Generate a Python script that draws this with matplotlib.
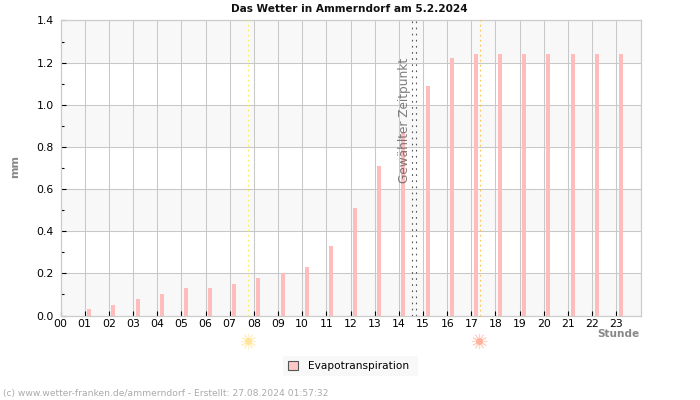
#!/usr/bin/env python3
# coding: utf-8

import matplotlib
matplotlib.use("Agg")
import matplotlib.pyplot as plt
from matplotlib.patches import Patch, Rectangle
from matplotlib.transforms import blended_transform_factory

hours = list(range(1, 24))
evapo = [0.03, 0.05, 0.08, 0.10, 0.13, 0.13, 0.15, 0.18, 0.20, 0.23, 0.33, 0.51,
         0.71, 0.87, 1.09, 1.22, 1.24, 1.24, 1.24, 1.24, 1.24, 1.24, 1.24]
hour_labels = [f"{h:02d}" for h in range(24)]
sunrise = 7.77
sunset = 17.37
selected = [14.53, 14.70]
bands = [(0.0, 0.2), (0.4, 0.6), (0.8, 1.0), (1.2, 1.4)]

W, H = 700, 400
fig = plt.figure(figsize=(7, 4), dpi=100)
ax = fig.add_axes([60.5 / W, 1 - 315.5 / H, 580 / W, 295 / H])
ax.set_xlim(0, 24)
ax.set_ylim(0, 1.4)

for lo, hi in bands:
    ax.axhspan(lo, hi, color="#f8f8f8", lw=0, zorder=0)
ax.grid(True, which="major", color="#c8c8c8", lw=0.75, zorder=1)
ax.set_axisbelow(True)

# bars sit a little right of the full hour
ax.bar([h + 0.19 for h in hours], evapo, width=0.165, color="#ffbcbc", lw=0, zorder=2)

ax.axvline(sunrise, color="#ffee55", lw=0.8, ls=(0, (1.5, 3)), zorder=3)
ax.axvline(sunset, color="#ffc04d", lw=0.8, ls=(0, (1.5, 3)), zorder=3)
for s in selected:
    ax.axvline(s, color="#555555", lw=0.8, ls=(0, (1.5, 4)), zorder=3)

ax.text(14.25, 0.925, "Gewählter Zeitpunkt", rotation=90, ha="center", va="center",
        fontsize=8.7, color="#666666", alpha=0.85, zorder=4)

ax.set_xticks(range(24))
ax.set_xticklabels(hour_labels)
ax.set_yticks([0, 0.2, 0.4, 0.6, 0.8, 1.0, 1.2, 1.4])
ax.set_yticklabels(["0.0", "0.2", "0.4", "0.6", "0.8", "1.0", "1.2", "1.4"])
ax.set_yticks([0.1, 0.3, 0.5, 0.7, 0.9, 1.1, 1.3], minor=True)
ax.tick_params(axis="x", direction="in", length=3.6, width=0.8, pad=2.5, labelsize=7.8, color="black")
ax.tick_params(axis="y", direction="in", length=3.6, width=0.8, pad=5, labelsize=7.8, color="black")
ax.tick_params(axis="y", which="minor", direction="in", length=2.2, width=0.8, color="black")
for side in ax.spines:
    ax.spines[side].set_color("#cccccc")
    ax.spines[side].set_linewidth(0.9)

fig.text(349 / W, 1 - 9 / H, "Das Wetter in Ammerndorf am 5.2.2024", ha="center", va="center",
         fontsize=7.6, fontweight="bold", color="#111111")
fig.text(15.5 / W, 1 - 166 / H, "mm", rotation=90, ha="center", va="center",
         fontsize=8, fontweight="bold", color="#888888")
fig.text(639 / W, 1 - 334 / H, "Stunde", ha="right", va="center",
         fontsize=7.6, fontweight="bold", color="#888888")
fig.text(3 / W, 1 - 393.5 / H, "(c) www.wetter-franken.de/ammerndorf - Erstellt: 27.08.2024 01:57:32",
         ha="left", va="center", fontsize=6.6, color="#aaaaaa")

# sun symbols under the axis
trans = blended_transform_factory(ax.transData, fig.transFigure)
for t, col in [(sunrise - 0.03, "#ffe49a"), (sunset - 0.05, "#ffb39a")]:
    ax.plot([t], [1 - 341 / H], marker="o", ms=5, color=col, mew=0, transform=trans, clip_on=False)
    ax.plot([t], [1 - 341 / H], marker=(12, 2, 0), ms=11, color=col, mew=0.8, alpha=0.55,
            transform=trans, clip_on=False)

# legend background is a plain box, its size does not follow the legend padding
fig.patches.append(Rectangle((283 / W, 1 - 376 / H), 135 / W, 20 / H, transform=fig.transFigure,
                             facecolor="#f8f8f8", edgecolor="none"))
fig.legend(handles=[Patch(facecolor="#ffc8c8", edgecolor="#555555", lw=0.8, label="Evapotranspiration")],
           loc="center", bbox_to_anchor=(349 / W, 1 - 366 / H), fontsize=7.6, frameon=False,
           handlelength=0.9, handleheight=0.9, handletextpad=1.0)

fig.savefig("out.png", dpi=100)
